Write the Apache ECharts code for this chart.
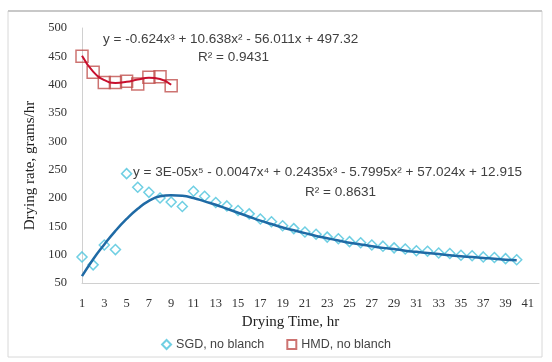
<!DOCTYPE html>
<html>
<head>
<meta charset="utf-8">
<script src="https://cdn.jsdelivr.net/npm/echarts@6/dist/echarts.min.js"></script>
<style>html,body{margin:0;padding:0;background:#fff}#c{width:552px;height:362px}</style>
</head>
<body>
<div id="c"></div>
<script>
// Categories (drying time, hr)
var hours = [];
for (var h = 1; h <= 42; h++) hours.push(String(h));

// SGD, no blanch (observed drying rate, grams/hr), hours 1..40
var sgdValues = [96, 82, 117, 109, 243, 219, 210, 200, 193, 185, 212, 203,
  192, 186, 178, 172, 163, 158, 151, 146, 140, 136, 131, 128, 123, 121, 117, 115,
  112, 110, 107, 106, 103, 102, 99, 98, 96, 95, 93, 91];
// SGD trendline, hours 1..40
var sgdTrend = [62, 92, 118, 142, 163, 181, 195, 203, 205, 204, 200, 194,
  188, 181, 174, 167, 160, 154, 148, 143, 138, 133, 129, 125, 121, 118, 115, 112,
  110, 107, 105, 103, 101, 99, 97, 96, 94, 93, 91, 90];

// HMD, no blanch, hours 1..9
var hmdValues = [450, 422, 404, 404, 406, 401, 413, 414, 398];
var hmdTrend = [451, 423, 408, 403, 405, 409, 412, 410, 400];

var yTicks = [50, 100, 150, 200, 250, 300, 350, 400, 450, 500];

function pairs(arr) { return arr.map(function (v, i) { return [i, v]; }); }

var chart = echarts.init(document.getElementById('c'), null, {renderer: 'canvas'});
var serif = 'Liberation Serif';
var sans = 'Liberation Sans';
var eqStyle = function (txt) {
  return {text: txt, fontFamily: sans, fontSize: 13.5, fill: '#404040'};
};
chart.setOption({
  animation: false,
  backgroundColor: '#fff',
  grid: {left: 82, right: 13, top: 28, bottom: 79},
  xAxis: {
    type: 'category', data: hours, boundaryGap: false,
    name: 'Drying Time, hr', nameLocation: 'middle', nameGap: 29,
    nameTextStyle: {fontFamily: serif, fontSize: 15, color: '#222', padding: [0, 40, 0, 0]},
    axisLine: {lineStyle: {color: '#d0d0d0', width: 1}},
    axisTick: {show: false},
    axisLabel: {interval: 1, fontFamily: serif, fontSize: 12.5, color: '#333', margin: 14},
    splitLine: {show: false}
  },
  yAxis: {
    type: 'value', min: yTicks[0], max: yTicks[yTicks.length - 1], interval: 50,
    name: 'Drying rate, grams/hr', nameLocation: 'middle', nameGap: 44,
    nameTextStyle: {fontFamily: serif, fontSize: 15, color: '#222', padding: [0, 20, 0, 0]},
    axisLine: {show: true, lineStyle: {color: '#d0d0d0', width: 1}},
    axisTick: {show: false},
    axisLabel: {fontFamily: serif, fontSize: 12.5, color: '#333', margin: 15},
    splitLine: {show: false}
  },
  legend: {
    data: ['SGD, no blanch', 'HMD, no blanch'],
    left: 'center', top: 333, itemWidth: 9, itemHeight: 9, itemGap: 22,
    textStyle: {fontFamily: sans, fontSize: 12.5, color: '#444'}
  },
  series: [
    {
      name: 'SGD, no blanch', type: 'scatter', data: pairs(sgdValues),
      symbol: 'diamond', symbolSize: 10,
      itemStyle: {color: 'rgba(255,255,255,0)', borderColor: '#4bc3dc', borderWidth: 1.5},
      z: 2
    },
    {
      name: 'HMD, no blanch', type: 'scatter', data: pairs(hmdValues),
      symbol: 'rect', symbolSize: 12,
      itemStyle: {color: 'rgba(255,255,255,0)', borderColor: '#c0504d', borderWidth: 1.5},
      z: 2
    },
    {
      name: 'SGD trend', type: 'line', data: sgdTrend, smooth: true, showSymbol: false,
      lineStyle: {color: '#1f6aa5', width: 2.5}, z: 3
    },
    {
      name: 'HMD trend', type: 'line', data: hmdTrend, smooth: true, showSymbol: false,
      lineStyle: {color: '#c8102e', width: 2}, z: 3
    }
  ],
  graphic: [
    {type: 'rect', shape: {x: 8, y: 11, width: 534, height: 346},
      style: {fill: 'none', stroke: '#d8d8d8', lineWidth: 1}, silent: true},
    {type: 'line', shape: {x1: 8, y1: 11, x2: 542, y2: 11},
      style: {stroke: '#c8c8c8', lineWidth: 2}, silent: true},
    {type: 'text', left: 103, top: 32,
      style: eqStyle('y = -0.624x\u00b3 + 10.638x\u00b2 - 56.011x + 497.32')},
    {type: 'text', left: 198, top: 50,
      style: eqStyle('R\u00b2 = 0.9431')},
    {type: 'text', left: 133, top: 165,
      style: eqStyle('y = 3E-05x\u2075 - 0.0047x\u2074 + 0.2435x\u00b3 - 5.7995x\u00b2 + 57.024x + 12.915')},
    {type: 'text', left: 305, top: 185,
      style: eqStyle('R\u00b2 = 0.8631')}
  ]
});
</script>
</body>
</html>
